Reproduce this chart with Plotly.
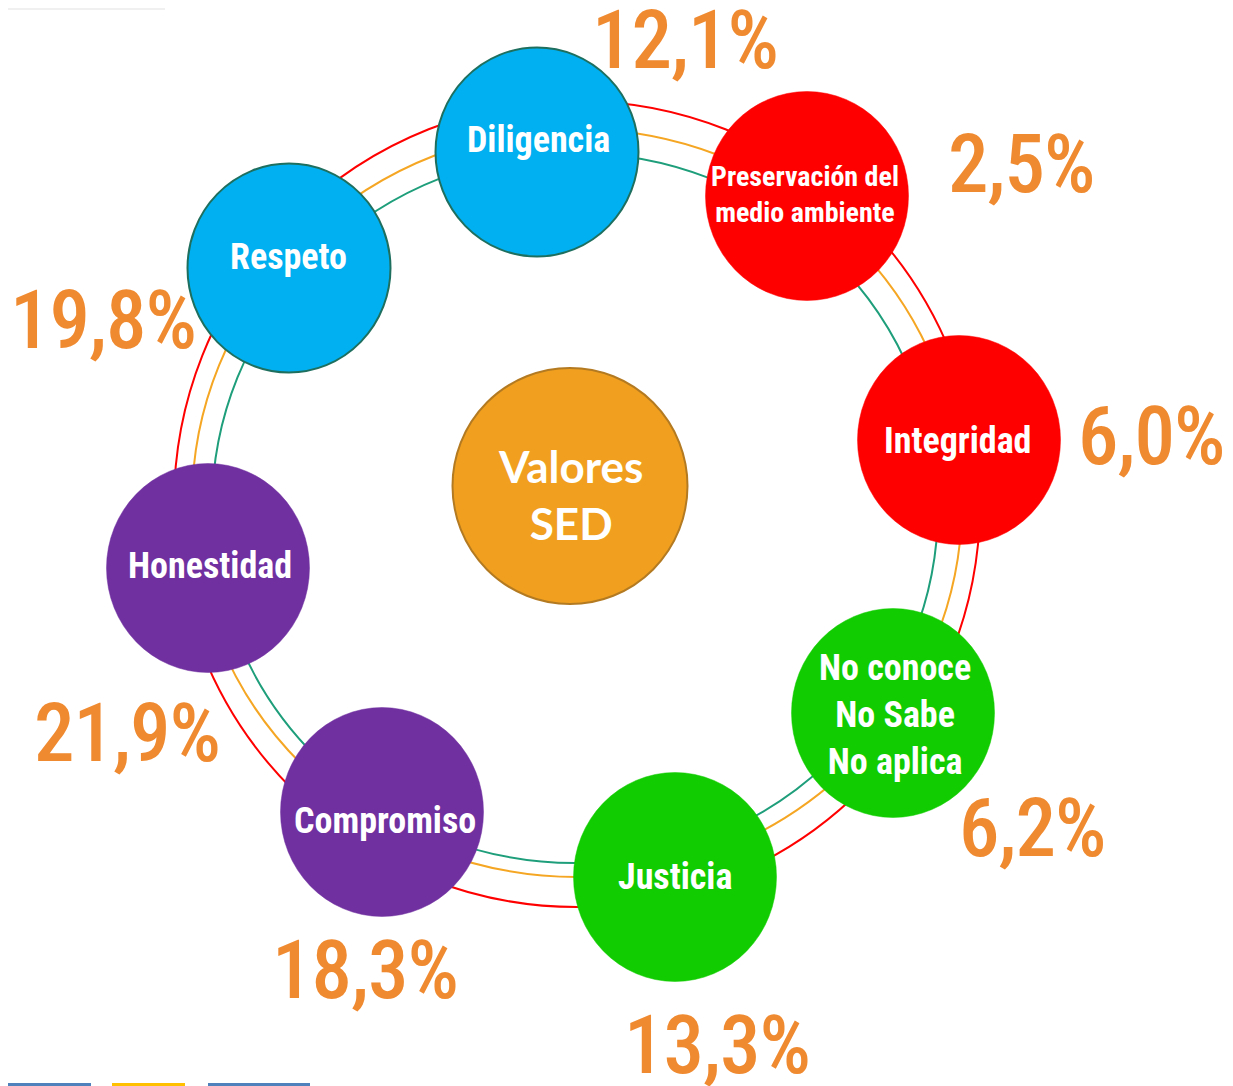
import plotly.graph_objects as go

# ---- data ----
values_names = ["Diligencia", "Preservación del<br>medio ambiente", "Integridad",
                "No conoce<br>No Sabe<br>No aplica", "Justicia", "Compromiso",
                "Honestidad", "Respeto"]
percent_labels = ["12,1%", "2,5%", "6,0%", "6,2%", "13,3%", "18,3%", "21,9%", "19,8%"]
center_label = "Valores<br>SED"

# ---- layout / style ----
W, H = 1233, 1086
OFF = 8  # page body margin
node_xy = [(537, 152), (807, 196), (959, 440), (893, 713), (675, 877),
           (382, 812), (208, 568), (289, 268)]
node_fill = ["#00B0F0", "#FF0000", "#FF0000", "#11CC00", "#11CC00",
             "#7030A0", "#7030A0", "#00B0F0"]
node_line = ["#1F6F5F", None, None, None, None, None, None, "#1F6F5F"]
label_xy = [(538, 140), (805, 194), (957, 441), (895, 715), (675, 877),
            (385, 821), (210, 566), (288, 257)]
label_size = [36, 28, 36, 36, 36, 36, 36, 36]
pct_xy = [(685, 41), (1021, 165), (1151, 437), (1032, 829), (717, 1046),
          (365, 971), (127, 734), (103, 321)]
RX, RY = 101.5, 104.5

rings = [  # cx, cy, rx, ry, color
    (577, 504, 403, 403, "#FF0000"),
    (577, 503, 385, 374, "#F5A623"),
    (575, 508, 363, 355, "#1E9E7A"),
]

COND = "font-stretch:75%"


def cond(txt, extra=""):
    return "<br>".join(f'<span style="{COND}{extra}">{p}</span>' for p in txt.split("<br>"))


shapes = []
for cx, cy, rx, ry, col in rings:
    shapes.append(dict(type="circle", xref="x", yref="y", x0=cx - rx, x1=cx + rx,
                       y0=cy - ry, y1=cy + ry, line=dict(color=col, width=2),
                       fillcolor="rgba(0,0,0,0)", layer="above"))

# center circle
shapes.append(dict(type="circle", xref="x", yref="y", x0=570 - 117.5, x1=570 + 117.5,
                   y0=486 - 118, y1=486 + 118, fillcolor="#F0A01E",
                   line=dict(color="#B47A22", width=2), layer="above"))

for (cx, cy), fc, lc in zip(node_xy, node_fill, node_line):
    shapes.append(dict(type="circle", xref="x", yref="y", x0=cx - RX, x1=cx + RX,
                       y0=cy - RY, y1=cy + RY, fillcolor=fc,
                       line=dict(color=lc if lc else fc, width=2 if lc else 0.5),
                       layer="above"))

# decorative bits at the page edges
shapes.append(dict(type="rect", xref="x", yref="y", x0=OFF, x1=165, y0=OFF, y1=OFF + 2,
                   fillcolor="rgba(0,0,0,0.06)", line=dict(width=0)))
for x0, x1, col in [(OFF, 91, "#4F81BD"), (112, 185, "#FFC000"), (208, 310, "#4F81BD")]:
    shapes.append(dict(type="rect", xref="x", yref="y", x0=x0, x1=x1, y0=1083, y1=1090,
                       fillcolor=col, line=dict(width=0)))

annotations = []
for txt, (x, y), fs in zip(values_names, label_xy, label_size):
    annotations.append(dict(x=x, y=y, xref="x", yref="y", text=cond(txt),
                            showarrow=False, xanchor="center", yanchor="middle",
                            font=dict(family="Roboto", size=fs, color="white", weight=700)))
for txt, (x, y) in zip(percent_labels, pct_xy):
    annotations.append(dict(x=x, y=y - 1, xref="x", yref="y",
                            text=cond(txt, ";letter-spacing:-1px"),
                            showarrow=False, xanchor="center", yanchor="middle",
                            font=dict(family="Roboto", size=81, color="#F08A30", weight=500)))
annotations.append(dict(x=570, y=494, xref="x", yref="y", text=f"<b>{center_label}</b>",
                        showarrow=False, xanchor="center", yanchor="middle",
                        font=dict(family="Lato", size=44, color="white")))

fig = go.Figure()
fig.add_trace(go.Scatter(x=[OFF, W], y=[OFF, H], mode="markers",
                         marker=dict(opacity=0), hoverinfo="skip", showlegend=False))
fig.update_layout(
    width=W - OFF, height=H - OFF, margin=dict(l=0, r=0, t=0, b=0),
    paper_bgcolor="white", plot_bgcolor="white",
    xaxis=dict(range=[OFF, W], visible=False, fixedrange=True),
    yaxis=dict(range=[H, OFF], visible=False, fixedrange=True),
    shapes=shapes, annotations=annotations, showlegend=False,
)
fig.write_html("out.html")
